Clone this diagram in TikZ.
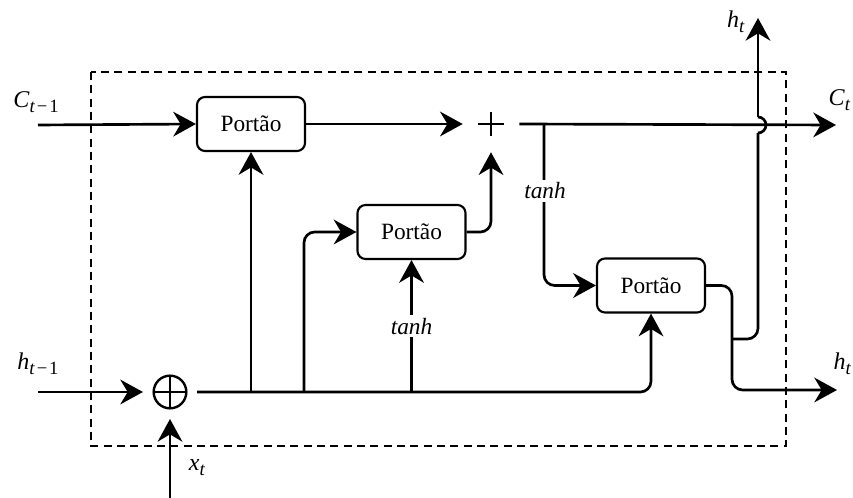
\documentclass[tikz,border=0pt]{standalone}
\usepackage{fontspec}
\setmainfont{Liberation Serif}
\usetikzlibrary{arrows.meta}

% italic variable with a lowered time index, e.g. h_t, C_{t-1}
\newcommand{\tvar}[2]{\textit{#1}\raisebox{-0.45ex}{\fontsize{14}{15}\selectfont\textit{t}#2}}
\newcommand{\tm}{\hspace{0.1em}−\hspace{0.1em}1}

\tikzset{
  gate/.style={draw, line width=1.6pt, rounded corners=6pt, minimum width=81pt,
    minimum height=40.5pt, inner sep=0pt, font=\fontsize{17.5}{20}\selectfont},
  flow/.style={line width=2pt, rounded corners=8pt,
    -{Stealth[length=17pt, width=18.5pt, inset=5.5pt]}},
  wire/.style={line width=2pt, rounded corners=8pt},
  lbl/.style={font=\fontsize{18}{20}\selectfont, inner sep=1pt},
  fnlbl/.style={font=\fontsize{17.5}{20}\selectfont\itshape, fill=white, inner sep=2pt},
  sumnode/.style={minimum size=42pt, inner sep=0pt,
    path picture={\draw[line width=2pt]
      ([xshift=-9.75pt]path picture bounding box.center) -- ++(19.5pt,0)
      ([yshift=-9pt]path picture bounding box.center) -- ++(0,18pt);}},
  xornode/.style={circle, draw, line width=1.8pt, minimum size=24.5pt, inner sep=0pt,
    outer sep=8pt,
    path picture={\draw[line width=1.6pt]
      (path picture bounding box.north) -- (path picture bounding box.south)
      (path picture bounding box.west) -- (path picture bounding box.east);}}
}

\begin{document}
\begin{tikzpicture}[x=0.75pt, y=-0.75pt]
  \useasboundingbox (0,0) rectangle (853,498);

  % cell boundary
  \draw[line width=1.4pt, dash pattern=on 6pt off 4pt] (91,72) rectangle (786,446);

  % gates and combining points
  \node[gate] (g1) at (251,124) {Portão};
  \node[gate] (g2) at (411.5,232) {Portão};
  \node[gate] (g3) at (651,285.5) {Portão};
  \node[sumnode] (plus) at (491,124) {};
  \node[xornode] (mix) at (170,392) {};

  % free ends of the external signals
  \coordinate (cin) at (38,125);
  \coordinate (hin) at (38,392);
  \coordinate (xin) at (170,498);
  \coordinate (cout) at (836,125);
  \coordinate (hout) at (837,390);
  \coordinate (htop) at (758,18);
  \coordinate (split) at (732,339);

  % labels of the external signals
  \node[lbl] (lcin) at (36,102) {\tvar{C}{\tm}};
  \node[lbl] (lhin) at (38,364) {\tvar{h}{\tm}};
  \node[lbl] (lxin) at (197,468) {\tvar{x}{}};
  \node[lbl] (lhtop) at (736,22) {\tvar{h}{}};
  \node[lbl, anchor=east] (lcout) at (852,100) {\tvar{C}{}};
  \node[lbl, anchor=west] (lhout) at (832,364) {\tvar{h}{}};

  % cell state path
  \draw[flow] (cin) -- (g1.west);
  \draw[flow] (g1.east) -- (plus.west);
  \draw[flow] (g2.east) -| (plus.south);
  \draw[flow] (plus.east) -- (cout);

  % input combination
  \draw[flow] (hin) -- (mix.west);
  \draw[flow] (xin) -- (mix.south);
  \draw[flow] (mix.east) -| (g3.south);
  \draw[flow] (g1.south |- mix) -- (g1.south);
  \draw[flow] (304,392) |- (g2.west);
  \draw[flow] (g2.south |- mix) -- (g2.south)
    node[fnlbl, pos=0.5] (th1) {tanh};

  % state through tanh into the output gate
  \draw[flow] (544,125) |- (g3.west);
  \node[fnlbl] (th2) at (545,191) {tanh};

  % output gate
  \draw[flow] (g3.east) -- (732,285.5) -- (732,390) -- (hout);
  \draw[wire] (split) -- (758,339) -- (758,133);
  \draw[line width=2pt] (758,133) arc[start angle=-90, end angle=90, radius=6pt];
  \draw[flow] (758,117) -- (htop);
\end{tikzpicture}
\end{document}
